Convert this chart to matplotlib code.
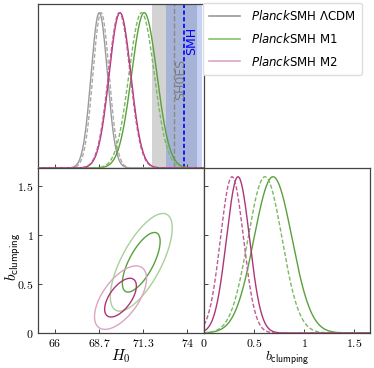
import matplotlib
matplotlib.use("Agg")
import matplotlib.pyplot as plt
from matplotlib.lines import Line2D
from matplotlib.font_manager import FontProperties
import numpy as np

plt.rcParams['mathtext.fontset'] = 'cm'

# 1D H0 posteriors: (mean, sigma) for solid and dashed runs
models = ['LCDM', 'M1', 'M2']
labels = [r'$\it{Planck}$SMH $\Lambda$CDM', r'$\it{Planck}$SMH M1', r'$\it{Planck}$SMH M2']
h0_mean = [68.69, 71.40, 69.94]
h0_sig = [0.49, 0.76, 0.65]
h0_mean_dash = [68.80, 71.24, 69.90]
h0_sig_dash = [0.49, 0.76, 0.65]

# 1D b_clumping posteriors (M1, M2 only)
b_mean = [0.69, 0.34]
b_sig = [0.19, 0.115]
b_mean_dash = [0.61, 0.28]
b_sig_dash = [0.17, 0.115]

# 2D (H0, b) contour summaries for M1, M2
c_h0 = [71.22, 69.97]
c_b = [0.72, 0.36]
c_sh0 = [0.75, 0.63]
c_sb = [0.2, 0.13]
c_rho = [0.70, 0.60]

# external H0 measurements
shoes = (73.2, 1.35)
smh = (73.8, 1.1)

h0_ticks = [66, 68.6667, 71.3333, 74]
h0_ticklabels = ['66', '68.7', '71.3', '74']
b_ticks = [0, 0.5, 1, 1.5]
b_ticklabels = ['0', '0.5', '1', '1.5']

col = {'LCDM': '#9a9a9a', 'M1': '#5aa03c', 'M2': '#ad3578'}
col_dash = {'LCDM': '#aaaaaa', 'M1': '#7cb865', 'M2': '#c05a92'}
col_out = {'M1': '#aad09a', 'M2': '#dba5c4'}
col_leg = {'LCDM': '#999999', 'M1': '#86c26c', 'M2': '#d9a6c8'}

H0_LIM = (65, 75)
B_LIM = (0, 1.68)
PEAK_LIM = (0, 1.056)
spine_col = '#444444'

fig = plt.figure(figsize=(3.74, 3.68), dpi=100)
W, H = 374, 368
def px_axes(x0, y0, x1, y1):
    return fig.add_axes([x0 / W, 1 - y1 / H, (x1 - x0) / W, (y1 - y0) / H])

ax_top = px_axes(38, 4, 204, 168)
ax_2d = px_axes(38, 168, 204, 333)
ax_b = px_axes(204, 168, 370, 333)

for ax in (ax_top, ax_2d, ax_b):
    for s in ax.spines.values():
        s.set_color(spine_col)
        s.set_linewidth(0.9)
    ax.tick_params(direction='in', length=3, width=0.7, color=spine_col,
                   labelsize=8.5, pad=3)

# --- top: H0 1D ---
x = np.linspace(*H0_LIM, 600)
ax_top.axvspan(shoes[0] - shoes[1], shoes[0] + shoes[1], color='#d3d3d3', lw=0, zorder=0)
ax_top.axvspan(smh[0] - smh[1], smh[0] + smh[1], color='royalblue', alpha=0.3, lw=0, zorder=0.5)
ax_top.axvline(shoes[0], color='#888888', ls='--', lw=1.0, zorder=1)
ax_top.axvline(smh[0], color='blue', ls='--', lw=1.2, dashes=(2.5, 1.5), zorder=1)
ax_top.text(shoes[0] + 0.42, 0.57, 'SH0ES', rotation=90, color='#777777', alpha=0.9,
            fontsize=9, ha='center', va='center')
ax_top.text(smh[0] + 0.45, 0.82, 'SMH', rotation=90, color='blue',
            fontsize=9, ha='center', va='center')
for i, m in enumerate(models):
    ax_top.plot(x, np.exp(-0.5 * ((x - h0_mean[i]) / h0_sig[i]) ** 2), color=col[m], lw=1.0, zorder=3)
    ax_top.plot(x, np.exp(-0.5 * ((x - h0_mean_dash[i]) / h0_sig_dash[i]) ** 2), color=col_dash[m],
                lw=1.0, ls='--', dashes=(3, 1.5), zorder=3)
ax_top.set_xlim(*H0_LIM)
ax_top.set_ylim(*PEAK_LIM)
ax_top.set_xticks(h0_ticks)
ax_top.set_xticklabels([])
ax_top.set_yticks([])

# --- bottom-left: 2D contours ---
gh = np.linspace(*H0_LIM, 400)
gb = np.linspace(*B_LIM, 400)
GH, GB = np.meshgrid(gh, gb)
for j, m in enumerate(['M1', 'M2']):
    dx = (GH - c_h0[j]) / c_sh0[j]
    dy = (GB - c_b[j]) / c_sb[j]
    r = c_rho[j]
    chi2 = (dx ** 2 - 2 * r * dx * dy + dy ** 2) / (1 - r ** 2)
    ax_2d.contour(GH, GB, chi2, levels=[6.18], colors=[col_out[m]], linewidths=1.0)
    ax_2d.contour(GH, GB, chi2, levels=[2.30], colors=[col[m]], linewidths=1.0)
ax_2d.set_xlim(*H0_LIM)
ax_2d.set_ylim(*B_LIM)
ax_2d.set_xticks(h0_ticks)
ax_2d.set_xticklabels(['$%s$' % t for t in h0_ticklabels])
ax_2d.set_yticks(b_ticks)
ax_2d.set_yticklabels(['$%s$' % t for t in b_ticklabels])
ax_2d.set_xlabel(r'$H_0$', fontsize=11)
ax_2d.xaxis.set_label_coords(0.5, -0.085)
ax_2d.set_ylabel(r'$b_{\mathsf{clumping}}$', fontsize=11)
ax_2d.yaxis.set_label_coords(-0.088, 0.46)

# --- bottom-right: b 1D ---
xb = np.linspace(0, B_LIM[1], 500)
for j, m in enumerate(['M1', 'M2']):
    ax_b.plot(xb, np.exp(-0.5 * ((xb - b_mean[j]) / b_sig[j]) ** 2), color=col[m], lw=1.0)
    ax_b.plot(xb, np.exp(-0.5 * ((xb - b_mean_dash[j]) / b_sig_dash[j]) ** 2), color=col_dash[m],
              lw=1.0, ls='--', dashes=(3, 1.5))
ax_b.set_xlim(0, 1.66)
ax_b.set_ylim(*PEAK_LIM)
ax_b.set_xticks(b_ticks)
ax_b.set_xticklabels(['$%s$' % t for t in b_ticklabels])
ax_b.set_yticks([t / B_LIM[1] * PEAK_LIM[1] for t in b_ticks[1:]])
ax_b.set_yticklabels([])
ax_b.set_xlabel(r'$b_{\mathsf{clumping}}$', fontsize=10)
ax_b.xaxis.set_label_coords(0.5, -0.10)

# legend
handles = [Line2D([], [], color=col_leg[m], lw=1.2) for m in models]
fp = FontProperties(family='DejaVu Sans', size=8.5, math_fontfamily='dejavusans')
fig.legend(handles, labels, loc='upper left', bbox_to_anchor=(203 / W, 1 - 3 / H),
           borderaxespad=0, prop=fp, frameon=True, fancybox=True, edgecolor='#dddddd',
           framealpha=1, handlelength=2.6, handletextpad=1.0, labelspacing=0.75,
           borderpad=0.5)

fig.savefig('out.png', dpi=100)
